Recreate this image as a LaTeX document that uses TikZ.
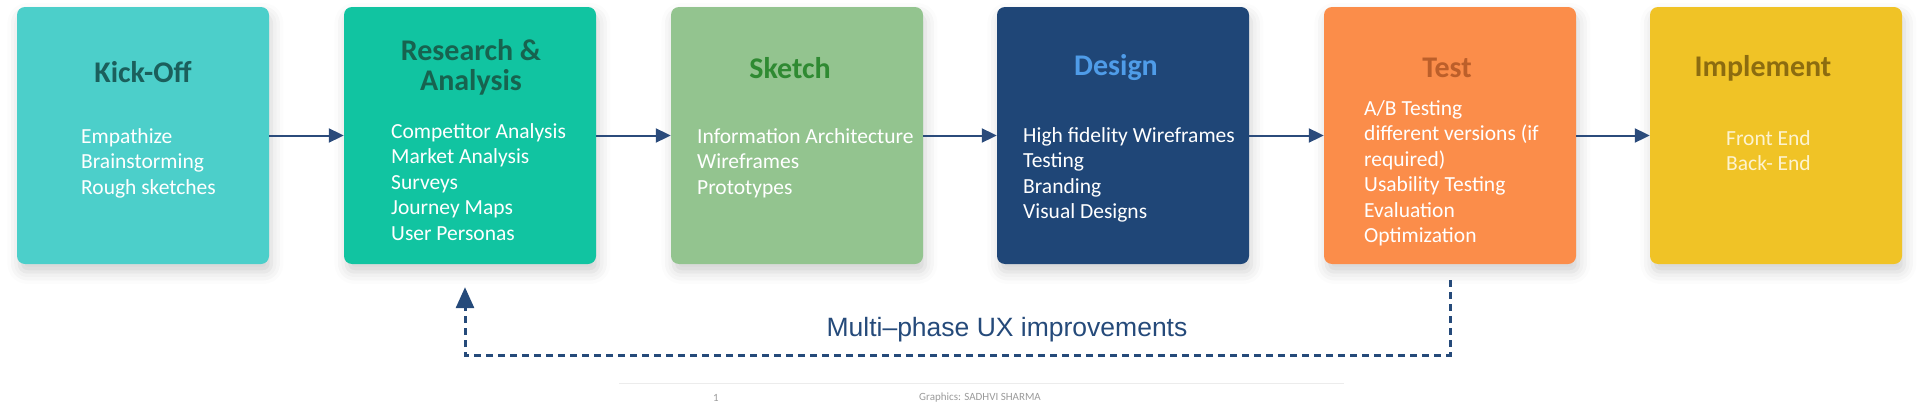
\documentclass[tikz,border=0pt]{standalone}
\usepackage{fontspec}
\setmainfont{Carlito}
\newfontfamily\loopfont{Liberation Sans}
\usepackage{xcolor}
\usetikzlibrary{arrows.meta}
\usetikzlibrary{shadows.blur}

\definecolor{kickC}{HTML}{4CCFCA}
\definecolor{kickT}{HTML}{1B5F5C}
\definecolor{resC}{HTML}{11C4A1}
\definecolor{resT}{HTML}{17634F}
\definecolor{skeC}{HTML}{93C48F}
\definecolor{skeT}{HTML}{2F8A32}
\definecolor{desC}{HTML}{1F4677}
\definecolor{desT}{HTML}{4F9CE8}
\definecolor{tesC}{HTML}{FB8D4A}
\definecolor{tesT}{HTML}{BC5F2A}
\definecolor{impC}{HTML}{F0C326}
\definecolor{impT}{HTML}{8C6C10}
\definecolor{impI}{HTML}{FDF3D0}
\definecolor{flowC}{HTML}{2B4B7B}
\definecolor{loopC}{HTML}{254A7A}
\definecolor{footC}{HTML}{9A9A9A}
\definecolor{ruleC}{HTML}{ECECEC}

\tikzset{
  phase/.style={rectangle, rounded corners=8pt, minimum width=252pt, minimum height=257pt, inner sep=0pt,
    blur shadow={shadow yshift=-8pt, shadow blur radius=12pt, shadow opacity=18}},
  title/.style={font=\fontsize{30}{30}\selectfont\bfseries, align=center, inner sep=0pt},
  items/.style={font=\fontsize{21.5}{25.5}\selectfont, align=left, anchor=base west, inner sep=0pt, text=white},
  flow/.style={-{Triangle[length=15pt,width=14pt]}, line width=2pt, draw=flowC},
  loopback/.style={-{Triangle[length=21pt,width=18pt]}, line width=3pt, draw=loopC,
    dash pattern=on 7pt off 5pt},
  foot/.style={font=\fontsize{11}{11}\selectfont, text=footC, inner sep=0pt}
}

\begin{document}
\begin{tikzpicture}[x=1pt,y=-1pt]
\useasboundingbox (0,0) rectangle (1920,415);

% the six phases
\node[phase, fill=kickC] (kick) at (143,135.5) {};
\node[phase, fill=resC] (res) at (470,135.5) {};
\node[phase, fill=skeC] (ske) at (797,135.5) {};
\node[phase, fill=desC] (des) at (1123,135.5) {};
\node[phase, fill=tesC] (tes) at (1450,135.5) {};
\node[phase, fill=impC] (imp) at (1776,135.5) {};

% titles
\node[title, text=kickT] (kickTitle) at (143,72) {Kick-Off};
\node[title, text=resT] (resTitle) at (471,67) {Research \&\\Analysis};
\node[title, text=skeT] (skeTitle) at (790,68) {Sketch};
\node[title, text=desT] (desTitle) at (1116,68) {Design};
\node[title, text=tesT] (tesTitle) at (1447,68) {Test};
\node[title, text=impT] (impTitle) at (1763,68) {Implement};

% what happens in each phase (placed by the baseline of the last line)
\node[items] (kickItems) at (81,194) {Empathize\\Brainstorming\\Rough sketches};
\node[items] (resItems) at (391,240) {Competitor Analysis\\Market Analysis\\Surveys\\Journey Maps\\User Personas};
\node[items] (skeItems) at (697,194) {Information Architecture\\Wireframes\\Prototypes};
\node[items] (desItems) at (1023,218.5) {High fidelity Wireframes\\Testing\\Branding\\Visual Designs};
\node[items] (tesItems) at (1364,242.5) {A/B Testing\\different versions (if\\required)\\Usability Testing\\Evaluation\\Optimization};
\node[items, text=impI] (impItems) at (1726,170.5) {Front End\\Back- End};

% arrows between phases
\draw[flow] (kick) -- (res);
\draw[flow] (res) -- (ske);
\draw[flow] (ske) -- (des);
\draw[flow] (des) -- (tes);
\draw[flow] (tes) -- (imp);

% back from test to research
\draw[loopback] ([yshift=-16pt]tes.south) -- ++(0,75) -| ([xshift=-5pt,yshift=-23pt]res.south);
\node[font=\loopfont\fontsize{26.5}{26.5}\selectfont, text=loopC] (loopLabel) at (1007,330) {Multi–phase UX improvements};

% footer
\draw[ruleC, line width=1pt] (619,383) -- (1344,383);
\node[foot] (pageNo) at (716,398) {1};
\node[foot] (credit) at (980,398) {Graphics: SADHVI SHARMA};

\end{tikzpicture}
\end{document}
